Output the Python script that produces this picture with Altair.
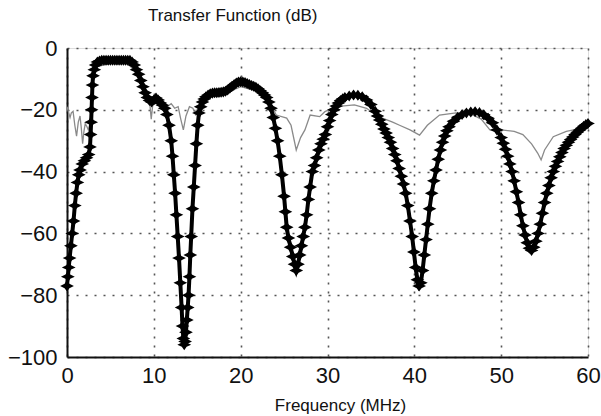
import altair as alt
import pandas as pd

# ---- black curve (thick, star markers) ----
black_x = [0.0, 0.1, 0.2, 0.3, 0.45, 0.6, 0.75, 0.9, 1.05, 1.2, 1.35, 1.5, 1.75, 2.0, 2.25, 2.5,
           2.65, 2.72, 2.78, 2.83, 2.88, 2.93, 3.0, 3.15, 3.3, 3.5, 3.75,
           4.0, 4.25, 4.5, 4.75, 5.0, 5.25, 5.5, 5.75, 6.0, 6.25, 6.5, 6.75, 7.0, 7.25,
           7.5, 7.75, 8.0, 8.25, 8.5, 8.75, 9.0, 9.25, 9.5, 9.75, 10.0, 10.25, 10.5, 10.75,
           11.0, 11.25, 11.5, 11.75, 12.0, 12.15, 12.3, 12.45, 12.6, 12.75, 12.9, 13.05,
           13.2, 13.3, 13.4, 13.5, 13.6, 13.7, 13.8, 13.9, 14.0, 14.1, 14.2, 14.3, 14.45,
           14.6, 14.75, 14.9, 15.05, 15.2, 15.4, 15.6, 15.8, 16.0, 16.25, 16.5, 16.75, 17.0,
           17.25, 17.5, 17.75, 18.0, 18.25, 18.5, 18.75, 19.0, 19.25, 19.5, 19.75, 20.0,
           20.25, 20.5, 20.75, 21.0, 21.25, 21.5, 21.75, 22.0, 22.25, 22.5, 22.75, 23.0,
           23.25, 23.5, 23.75, 24.0, 24.25, 24.5, 24.75, 25.0, 25.15, 25.3, 25.5, 25.75,
           26.0, 26.2, 26.4, 26.6, 26.8, 27.0, 27.2, 27.4, 27.6, 27.8, 28.0, 28.25, 28.5,
           28.75, 29.0, 29.25, 29.5, 29.75, 30.0, 30.25, 30.5, 30.75, 31.0, 31.25, 31.5,
           31.75, 32.0, 32.5, 33.0, 33.5, 34.0, 34.5, 35.0, 35.5, 35.75, 36.0, 36.25, 36.5,
           36.75, 37.0, 37.25, 37.5, 37.75, 38.0, 38.25, 38.5, 38.75, 39.0, 39.25, 39.5,
           39.75, 39.95, 40.15, 40.35, 40.55, 40.75, 40.95, 41.15, 41.35, 41.55, 41.75,
           42.0, 42.25, 42.5, 42.75, 43.0, 43.25, 43.5, 43.75, 44.0, 44.5, 45.0, 45.5,
           46.0, 46.5, 47.0, 47.5, 48.0, 48.5, 49.0, 49.5, 50.0, 50.25, 50.5, 50.75, 51.0,
           51.25, 51.5, 51.75, 52.0, 52.25, 52.5, 52.75, 53.0, 53.25, 53.5, 53.75, 54.0,
           54.25, 54.5, 54.75, 55.0, 55.25, 55.5, 55.75, 56.0, 56.25, 56.5, 56.75, 57.0,
           57.25, 57.5, 57.75, 58.0, 58.25, 58.5, 58.75, 59.0, 59.25, 59.5, 59.75, 60.0]
black_y = [-77, -74, -71, -68, -64, -60, -56, -51, -47, -43.5, -41, -39.5, -37.5, -36.5, -35.5, -34.5,
           -32, -28, -24, -20, -16, -12, -9, -7, -5.5, -4.5, -4.2,
           -4, -4, -4, -4, -4, -4, -4, -4, -4, -4, -4, -4, -4, -4,
           -4.5, -5.5, -7, -8.5, -10.5, -12.5, -14.5, -16, -17, -17.5, -16.8, -16.2, -16.8, -17.8,
           -18.5, -19.5, -21.5, -25, -30, -35, -41, -47, -54, -61, -68, -76,
           -84, -90, -94, -96, -95, -92, -88, -84, -80, -74, -67, -61, -52,
           -45, -38, -31, -25, -21, -19, -17.5, -16.5, -15.8, -15.2, -14.8, -14.6, -14.5,
           -14.5, -14.4, -14.3, -14.2, -14.0, -13.6, -13.0, -12.4, -11.8, -11.3, -11.0, -10.9,
           -11.0, -11.2, -11.5, -11.8, -12.1, -12.4, -12.7, -13.2, -13.8, -14.5, -15.2, -16,
           -17.5, -19.5, -22.5, -26, -30, -35, -41, -48, -53, -58, -61.5, -64.5,
           -67.5, -70, -72, -70, -67, -64, -61, -58, -54, -49, -45, -40, -38,
           -35.5, -33, -31, -29.5, -28, -25.5, -23.5, -21.5, -20, -18.8, -17.8, -17,
           -16.4, -16, -15.5, -15.2, -15.3, -15.8, -16.8, -18.3, -20.5, -22, -23.3, -24.7, -26.2,
           -27.5, -29, -30.5, -32.5, -34.5, -36.5, -39, -41.5, -44, -47, -51, -56,
           -61, -66, -71, -75, -77, -76, -72, -67, -62, -57, -52,
           -47, -43, -39.5, -36, -33, -30.5, -28.5, -26.8, -25.5, -23.7, -22.4, -21.5,
           -21, -20.7, -20.6, -20.9, -21.6, -22.7, -24.2, -26.5, -29, -30.8, -32.8, -35, -37.5,
           -40, -43, -46.5, -50, -54, -57.5, -60.5, -63, -64.8, -65.5, -64.5, -62.5,
           -60, -57, -53.5, -50, -47, -44.5, -42, -40, -38.3, -36.7, -35.2, -33.8,
           -32.5, -31.5, -30.5, -29.6, -28.8, -28, -27.3, -26.6, -26, -25.3, -24.8, -24.4]

# ---- gray curve (thin) ----
gray_x = [0.0, 0.2, 0.35, 0.5, 0.7, 0.9, 1.1, 1.3, 1.5, 1.65, 1.8, 1.95, 2.1, 2.3, 2.45, 2.6, 2.8,
          3.0, 3.5, 5.0, 7.0, 8.0, 9.0, 9.4, 9.55, 9.7, 9.85, 10.0, 10.5, 11.0, 11.5, 12.0,
          12.4, 12.8, 13.1, 13.4, 13.7, 14.1, 14.5, 14.8, 15.1, 15.5, 16.0, 18.0, 20.0,
          22.0, 23.5, 24.1, 25.3, 25.8, 26.4, 26.9, 27.4, 28.0, 29.1, 29.7, 31.0, 33.1,
          34.5, 35.5, 36.4, 37.5, 38.3, 39.5, 40.6, 41.5, 42.9, 44.8, 46.8, 47.7, 48.7,
          50.0, 51.5, 52.5, 53.5, 54.2, 54.6, 55.0, 56.0, 57.5, 59.2, 60.0]
gray_y = [-19, -21, -22.5, -21, -20.5, -25, -28.5, -24, -22, -26, -31, -27, -24.5, -25.5, -26.5, -25, -20,
          -10, -6, -5, -5, -8, -14, -17.5, -18.5, -23, -19, -17, -17, -18, -19, -18,
          -19.5, -19, -23, -26.5, -22, -19, -19.5, -21.5, -19, -17, -16, -15, -12.5,
          -14, -18.5, -21.7, -22.7, -25, -33, -29, -26.5, -21.7, -22.2, -20.6, -19, -18.4,
          -19.5, -21.5, -22.8, -24, -25, -26.5, -28.2, -25, -21.7, -21, -21.7, -23, -26.5,
          -26.5, -27, -28, -31, -34, -36.2, -33, -28.7, -27, -26, -25.8]

x_ticks = [0, 10, 20, 30, 40, 50, 60]
y_ticks = [0, -20, -40, -60, -80, -100]

df_b = pd.DataFrame({"f": black_x, "db": black_y, "o": list(range(len(black_x)))})
df_g = pd.DataFrame({"f": gray_x, "db": gray_y, "o": list(range(len(gray_x)))})

FONT = "Liberation Sans"
STAR = "M-1,0L-0.35,-0.32L0,-0.8L0.35,-0.32L1,0L0.35,0.32L0,0.8L-0.35,0.32Z"

xenc = alt.X("f:Q", scale=alt.Scale(domain=[0, 60], nice=False, zero=False),
             axis=alt.Axis(values=x_ticks, title="Frequency (MHz)", grid=True,
                           gridDash=[2, 7], gridColor="#555", gridWidth=1.6,
                           ticks=False, domainColor="#111", domainWidth=2,
                           labelFontSize=22, labelColor="#111", labelFont=FONT, labelPadding=8,
                           labelFlush=False,
                           titleFont=FONT, titleFontSize=17, titleFontWeight="normal",
                           titleColor="#111", titleX=273, titleY=53, titleBaseline="alphabetic"))
yenc = alt.Y("db:Q", scale=alt.Scale(domain=[-100, 0], nice=False, zero=False),
             axis=alt.Axis(values=y_ticks, title=None, grid=True,
                           gridDash=[2, 7], gridColor="#555", gridWidth=1.6,
                           ticks=False, domainColor="#111", domainWidth=2,
                           labelFontSize=22, labelColor="#111", labelFont=FONT, labelPadding=10,
                           labelFlush=False))

gray = alt.Chart(df_g).mark_line(color="#8a8a8a", strokeWidth=1.3).encode(
    x=xenc, y=yenc, order="o:Q")
bline = alt.Chart(df_b).mark_line(color="black", strokeWidth=4).encode(
    x="f:Q", y="db:Q", order="o:Q")
bpts = alt.Chart(df_b).mark_point(shape=STAR, filled=True, color="black", size=190, opacity=1).encode(
    x="f:Q", y="db:Q")

chart = alt.layer(gray, bline, bpts).properties(
    width=521, height=309,
    title=alt.TitleParams("Transfer Function (dB)", anchor="start", frame="group", dx=81, offset=12,
                          fontSize=17, font=FONT, fontWeight="normal", color="#111"),
    autosize=alt.AutoSizeParams(type="none"),
    padding={"left": 67, "top": 48, "right": 13, "bottom": 59},
).configure_view(stroke="#555", strokeWidth=1.5).configure(background="white")

chart.save("out.html", embed_options={"renderer": "svg", "actions": False})
